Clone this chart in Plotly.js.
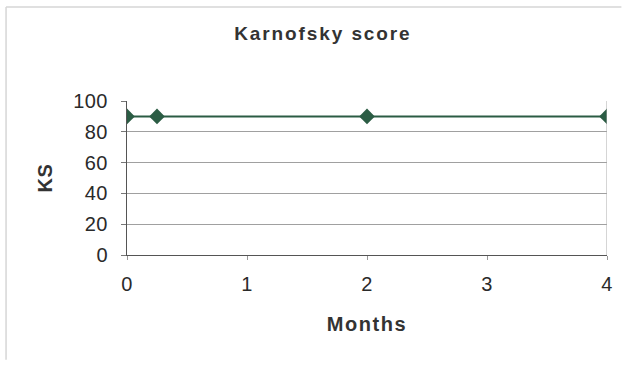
<!DOCTYPE html>
<html>
<head>
<meta charset="utf-8">
<script src="https://cdn.plot.ly/plotly-3.0.1.min.js"></script>
<style>
  html, body { margin: 0; padding: 0; background: #fff; }
  #chart { width: 627px; height: 366px; }
  /* wide, loosely set lettering */
  #chart .gtitle { letter-spacing: 1.9px; }
  #chart .xtitle { letter-spacing: 1.6px; }
  #chart .ytitle { letter-spacing: 0.5px; }
  #chart .xtick text, #chart .ytick text { letter-spacing: 0.5px; }
</style>
</head>
<body>
<div id="chart"></div>
<script>
// Karnofsky performance score over follow-up
const months = [0, 0.25, 2, 4];
const ksScore = [90, 90, 90, 90];
const xTicks = [0, 1, 2, 3, 4];
const yTicks = [0, 20, 40, 60, 80, 100];

const font = 'Arial, "Liberation Sans", sans-serif';
const lineColor = '#2b5c44';
const textColor = '#2a2a2a';

const trace = {
  x: months,
  y: ksScore,
  type: 'scatter',
  mode: 'lines+markers',
  line: { color: lineColor, width: 2 },
  marker: { symbol: 'diamond', size: 12, color: lineColor },
  hoverinfo: 'x+y',
  showlegend: false
};

const layout = {
  width: 627,
  height: 366,
  margin: { l: 127, r: 20, t: 101, b: 111 },
  paper_bgcolor: '#ffffff',
  plot_bgcolor: '#ffffff',
  font: { family: font, color: textColor, size: 20 },
  title: {
    text: '<b>Karnofsky score</b>',
    font: { family: font, size: 19, color: '#333' },
    x: 0.515, xref: 'container', xanchor: 'center',
    y: 1 - 33 / 366, yref: 'container', yanchor: 'middle'
  },
  xaxis: {
    range: [0, 4],
    tickvals: xTicks,
    ticktext: xTicks.map(String),
    ticks: 'outside', ticklen: 4, tickcolor: '#999', tickwidth: 1,
    ticklabelstandoff: 7,
    showline: true, linecolor: '#555', linewidth: 1,
    showgrid: false, zeroline: false,
    tickfont: { family: font, size: 20, color: textColor },
    title: { text: '<b>Months</b>', font: { family: font, size: 20, color: '#333' }, standoff: 22 },
    automargin: false,
    fixedrange: true
  },
  yaxis: {
    range: [0, 100],
    tickvals: yTicks,
    ticktext: yTicks.map(String),
    ticks: 'outside', ticklen: 5, tickcolor: '#777', tickwidth: 1,
    ticklabelstandoff: 9,
    showline: true, linecolor: '#555', linewidth: 1,
    showgrid: true, gridcolor: '#a0a0a0', gridwidth: 1,
    zeroline: false,
    tickfont: { family: font, size: 20, color: textColor },
    title: { text: '<b>KS</b>', font: { family: font, size: 20, color: '#333' }, standoff: 16 },
    automargin: false,
    fixedrange: true
  },
  shapes: [
    // right edge of the plotting area
    { type: 'line', xref: 'x', yref: 'y', x0: 4, x1: 4, y0: 0, y1: 100,
      line: { color: '#aaa', width: 1 } },
    // chart frame (left and top edges)
    { type: 'line', xref: 'paper', yref: 'paper', x0: -0.252, x1: -0.252, y0: -0.68, y1: 1.61,
      line: { color: '#d6d6d6', width: 1.5 } },
    { type: 'line', xref: 'paper', yref: 'paper', x0: -0.252, x1: 1.03, y0: 1.61, y1: 1.61,
      line: { color: '#d6d6d6', width: 1.5 } }
  ]
};

Plotly.newPlot('chart', [trace], layout, { displayModeBar: false, staticPlot: true });
</script>
</body>
</html>
